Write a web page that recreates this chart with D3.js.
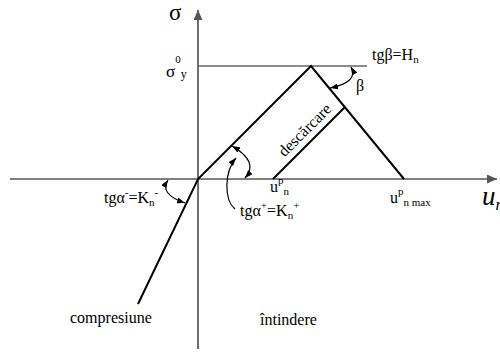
<!DOCTYPE html>
<html>
<head>
<meta charset="utf-8">
<script src="https://cdn.jsdelivr.net/npm/d3@7"></script>
<style>
  body { margin: 0; background: #fff; }
  svg { display: block; }
</style>
</head>
<body>
<svg id="chart" width="500" height="352"></svg>
<script>
// Normal stress σ versus normal displacement u_n for an interface element:
// elastic loading (K_n+ in tension, K_n- in compression), yield at σ0_y,
// softening with slope H_n down to u_p n max, elastic unloading from u_p n.

// Axis extents (u_n, σ)
const uAxis = [-18.8, 29.9];
const sAxis = [-17.0, 16.9];

// Constitutive envelope: compression branch, origin, peak, end of softening
const envelopeU = [-6.0, 0, 11.3, 20.6];
const envelopeS = [-12.5, 0, 11.3, 0];

// Unloading branch from the plastic displacement u_p n
const unloadU = [7.5, 14.7];
const unloadS = [0, 7.2];

// Yield stress level σ0_y
const yieldU = [0, 16.9];
const yieldS = [11.3, 11.3];

// Angle markers (start, control, end) in (u_n, σ)
const alphaMinusArc = [[-3.0, -0.1], [-3.9, -1.5], [-1.3, -2.4]];
const alphaPlusArc = [[3.4, 3.3], [6.15, 1.7], [4.7, 0.1]];
const betaArc = [[15.3, 11.2], [16.1, 9.7], [13.2, 9.1]];
// Leader from the tgα+ label to its arc (cubic: start, c1, c2, end)
const alphaPlusLeader = [[3.7, -3.0], [2.6, -2.1], [2.6, 0.7], [3.8, 2.1]];

const FONT = '"Liberation Serif", "Times New Roman", serif';

const svg = d3.select("#chart");
const x = d3.scaleLinear().domain([-19.8, 30.2]).range([0, 500]);
const y = d3.scaleLinear().domain([17.9, -17.3]).range([0, 352]);

const defs = svg.append("defs");
function marker(id, len, wid, color) {
  defs.append("marker")
    .attr("id", id)
    .attr("markerUnits", "userSpaceOnUse")
    .attr("viewBox", `0 0 ${len} ${wid}`)
    .attr("refX", len).attr("refY", wid / 2)
    .attr("markerWidth", len).attr("markerHeight", wid)
    .attr("orient", "auto-start-reverse")
    .append("path")
    .attr("d", `M0,0L${len},${wid / 2}L0,${wid}Z`)
    .attr("fill", color);
}
marker("axisHead", 10, 9, "#555");
marker("tipHead", 8, 6, "#000");

const zip = (us, ss) => us.map((u, i) => [u, ss[i]]);
const line = d3.line().x(d => x(d[0])).y(d => y(d[1]));

// Axes
svg.append("line")
  .attr("x1", x(uAxis[0])).attr("y1", y(0))
  .attr("x2", x(uAxis[1])).attr("y2", y(0))
  .attr("stroke", "#555").attr("stroke-width", 1.7)
  .attr("marker-end", "url(#axisHead)");
svg.append("line")
  .attr("x1", x(0)).attr("y1", y(sAxis[0]))
  .attr("x2", x(0)).attr("y2", y(sAxis[1]))
  .attr("stroke", "#555").attr("stroke-width", 1.7)
  .attr("marker-end", "url(#axisHead)");

// Yield level
svg.append("path")
  .attr("d", line(zip(yieldU, yieldS)))
  .attr("fill", "none").attr("stroke", "#666").attr("stroke-width", 1.5);

// Envelope and unloading branch
svg.append("path")
  .attr("d", line(zip(envelopeU, envelopeS)))
  .attr("fill", "none").attr("stroke", "#000").attr("stroke-width", 2)
  .attr("stroke-linejoin", "miter");
svg.append("path")
  .attr("d", line(zip(unloadU, unloadS)))
  .attr("fill", "none").attr("stroke", "#000").attr("stroke-width", 2);

// Angle markers with arrowheads at both ends
function quadArc(pts, both) {
  const p = d3.path();
  p.moveTo(x(pts[0][0]), y(pts[0][1]));
  p.quadraticCurveTo(x(pts[1][0]), y(pts[1][1]), x(pts[2][0]), y(pts[2][1]));
  const el = svg.append("path").attr("d", p.toString())
    .attr("fill", "none").attr("stroke", "#000").attr("stroke-width", 1.2)
    .attr("marker-end", "url(#tipHead)");
  if (both) el.attr("marker-start", "url(#tipHead)");
}
quadArc(alphaMinusArc, true);
quadArc(alphaPlusArc, true);
quadArc(betaArc, true);

{
  const p = d3.path();
  const c = alphaPlusLeader;
  p.moveTo(x(c[0][0]), y(c[0][1]));
  p.bezierCurveTo(x(c[1][0]), y(c[1][1]), x(c[2][0]), y(c[2][1]), x(c[3][0]), y(c[3][1]));
  svg.append("path").attr("d", p.toString())
    .attr("fill", "none").attr("stroke", "#000").attr("stroke-width", 1.2)
    .attr("marker-end", "url(#tipHead)");
}

// Plain text helper
function label(xPos, yPos, str, size) {
  return svg.append("text")
    .attr("x", xPos).attr("y", yPos)
    .style("font-family", FONT)
    .style("font-size", (size || 16) + "px")
    .style("fill", "#000")
    .text(str);
}

// Text with superscripts / subscripts
function richText(xPos, yPos, parts) {
  const t = svg.append("text").attr("x", xPos).attr("y", yPos)
    .style("font-family", FONT).style("fill", "#000");
  let cur = 0;
  parts.forEach(p => {
    const shift = p.shift || 0;
    t.append("tspan")
      .attr("dy", shift - cur)
      .style("font-size", (p.size || 16) + "px")
      .style("font-style", p.italic ? "italic" : "normal")
      .text(p.t);
    cur = shift;
  });
  return t;
}

const SUP = -7, SUB = 3, SM = 11;

// σ axis title
richText(x(0) - 29, 20, [{ t: "σ", size: 23 }]);
// u_n axis title
richText(482, y(0) + 26, [
  { t: "u", size: 27, italic: true },
  { t: "n", size: 17, italic: true, shift: 5 }
]);

// σ0_y
richText(x(0) - 32, y(yieldS[0]) + 11, [
  { t: "σ", size: 17 },
  { t: "0", size: SM, shift: -14 },
  { t: "y", size: 12, shift: 1 }
]);

// tgβ = H_n
richText(x(yieldU[1]) + 5, y(yieldS[0]) - 6, [
  { t: "tgβ=H" },
  { t: "n", size: SM, shift: SUB }
]);
// β
richText(x(envelopeU[2]) + 45, y(envelopeS[2]) + 25, [{ t: "β" }]);

// u_p n
richText(x(unloadU[0]) - 3, y(0) + 13, [
  { t: "u" },
  { t: "p", size: SM, shift: -8 },
  { t: "n", size: SM, shift: SUB }
]);
// u_p n max
richText(x(envelopeU[3]) - 14, y(0) + 24, [
  { t: "u" },
  { t: "p", size: SM, shift: -8 },
  { t: "n max", size: SM, shift: SUB }
]);

// tgα- = K_n-
richText(104, y(0) + 24, [
  { t: "tgα" },
  { t: "-", size: SM, shift: SUP },
  { t: "=K" },
  { t: "n", size: SM, shift: SUB },
  { t: "-", size: SM, shift: SUP }
]);
// tgα+ = K_n+
richText(240, y(0) + 37, [
  { t: "tgα" },
  { t: "+", size: SM, shift: SUP },
  { t: "=K" },
  { t: "n", size: SM, shift: SUB },
  { t: "+", size: SM, shift: SUP }
]);

// Unloading label along its branch
{
  const p0 = [x(unloadU[0]), y(unloadS[0])];
  const p1 = [x(unloadU[1]), y(unloadS[1])];
  const ang = Math.atan2(p1[1] - p0[1], p1[0] - p0[0]);
  const f = 0.56, off = 7;
  const cx = p0[0] + (p1[0] - p0[0]) * f + Math.sin(ang) * off;
  const cy = p0[1] + (p1[1] - p0[1]) * f - Math.cos(ang) * off;
  svg.append("text")
    .attr("transform", `translate(${cx},${cy}) rotate(${ang * 180 / Math.PI})`)
    .attr("text-anchor", "middle")
    .style("font-family", FONT)
    .style("font-size", "16px")
    .style("fill", "#000")
    .text("descărcare");
}

// Region labels
label(70, 323, "compresiune");
label(260, 325, "întindere");
</script>
</body>
</html>
